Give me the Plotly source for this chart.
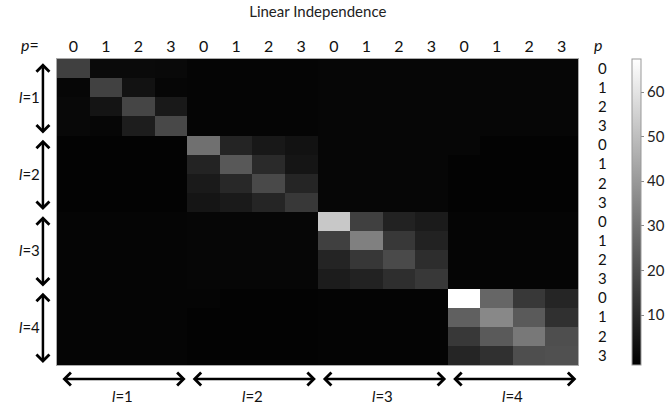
import plotly.graph_objects as go

col_labels = ["0", "1", "2", "3"] * 4
row_labels = ["0", "1", "2", "3"] * 4
block_labels = ["l=1", "l=2", "l=3", "l=4"]

z_values = [
    [16.0, 1.5, 1.5, 1.3, 0.2, 0.2, 0.2, 0.2, 0.3, 0.3, 0.3, 0.3, 0.3, 0.3, 0.3, 0.3],
    [0.3, 16.2, 3.6, 0.3, 0.1, 0.1, 0.1, 0.1, 0.3, 0.3, 0.3, 0.3, 0.3, 0.3, 0.3, 0.3],
    [0.9, 4.2, 17.4, 5.6, 0.1, 0.1, 0.1, 0.1, 0.3, 0.3, 0.3, 0.3, 0.3, 0.3, 0.3, 0.3],
    [0.9, 0.3, 6.6, 18.2, 0.1, 0.1, 0.1, 0.1, 0.3, 0.3, 0.3, 0.3, 0.3, 0.3, 0.3, 0.3],
    [-0.4, -0.4, -0.4, -0.4, 28.9, 8.6, 5.3, 3.7, 0.4, 0.4, 0.4, 0.4, 0.3, -0.5, -0.5, -0.5],
    [-0.4, -0.4, -0.4, -0.4, 8.2, 22.5, 10.1, 4.5, 0.4, 0.4, 0.4, 0.4, -0.5, -0.5, -0.5, -0.5],
    [-0.4, -0.4, -0.4, -0.4, 5.8, 9.6, 18.4, 8.8, 0.4, 0.4, 0.4, 0.4, -0.5, -0.5, -0.5, -0.5],
    [-0.4, -0.4, -0.4, -0.4, 4.5, 5.8, 8.8, 13.9, 0.4, 0.4, 0.4, 0.4, -0.5, -0.5, -0.5, -0.5],
    [0.1, 0.1, 0.1, 0.1, 0.3, 0.3, 0.3, 0.3, 52.6, 16.0, 8.0, 6.0, 0.2, 0.2, 0.2, 0.2],
    [0.1, 0.1, 0.1, 0.1, 0.3, 0.3, 0.3, 0.3, 16.0, 33.2, 13.9, 8.0, 0.2, 0.2, 0.2, 0.2],
    [0.1, 0.1, 0.1, 0.1, 0.3, 0.3, 0.3, 0.3, 8.6, 13.6, 18.7, 10.8, 0.2, 0.2, 0.2, 0.2],
    [0.1, 0.1, 0.1, 0.1, 0.3, 0.3, 0.3, 0.3, 6.3, 8.0, 11.2, 13.9, 0.2, 0.2, 0.2, 0.2],
    [0.1, 0.1, 0.1, 0.1, 0.1, -0.5, -0.5, -0.5, -0.2, -0.2, -0.2, -0.2, 67.4, 26.2, 13.9, 8.8],
    [0.1, 0.1, 0.1, 0.1, -0.5, -0.5, -0.5, -0.5, -0.2, -0.2, -0.2, -0.2, 24.6, 35.4, 23.0, 11.7],
    [0.1, 0.1, 0.1, 0.1, -0.5, -0.5, -0.5, -0.5, -0.2, -0.2, -0.2, -0.2, 13.9, 23.0, 31.1, 19.8],
    [0.1, 0.1, 0.1, 0.1, -0.5, -0.5, -0.5, -0.5, -0.2, -0.2, -0.2, -0.2, 8.8, 11.7, 19.8, 20.3],
]

FONT = "Lato"
n = len(col_labels)

fig = go.Figure(go.Heatmap(
    z=z_values,
    x=list(range(n)),
    y=list(range(n)),
    colorscale=[[0, "#000000"], [1, "#ffffff"]],
    zmin=-1.2, zmax=67.4,
    xgap=0, ygap=0,
    colorbar=dict(
        x=1.104, xanchor="left", y=0.5, yanchor="middle", len=1.0,
        xpad=0, ypad=0,
        thickness=9, outlinecolor="#999999", outlinewidth=1,
        tickvals=[10, 20, 30, 40, 50, 60], ticks="outside", ticklen=3,
        tickcolor="#888888",
        tickfont=dict(family=FONT, size=15, color="#222222"),
    ),
    showscale=True,
))

fig.update_xaxes(
    side="top", tickmode="array", tickvals=list(range(n)), ticktext=col_labels,
    ticks="", ticklen=0,
    tickfont=dict(family=FONT, size=16, color="#111111"),
    showgrid=False, zeroline=False, range=[-0.5, n - 0.5],
    showline=True, linecolor="#aaaaaa", linewidth=1, mirror=True,
    automargin=False,
)
fig.update_yaxes(
    side="right", tickmode="array", tickvals=list(range(n)), ticktext=row_labels,
    ticks="outside", ticklen=16, tickcolor="rgba(0,0,0,0)",
    tickfont=dict(family=FONT, size=15, color="#111111"),
    showgrid=False, zeroline=False, range=[n - 0.5, -0.5],
    showline=True, linecolor="#aaaaaa", linewidth=1, mirror=True,
    automargin=False,
)

annotations = []
annotations.append(dict(text="<i>p</i>=", xref="paper", yref="paper", x=-0.052, y=1.046,
                        showarrow=False, font=dict(family=FONT, size=16, color="#111111"),
                        xanchor="center", yanchor="middle"))
annotations.append(dict(text="<i>p</i>", xref="paper", yref="paper", x=1.038, y=1.046,
                        showarrow=False, font=dict(family=FONT, size=16, color="#111111"),
                        xanchor="center", yanchor="middle"))

for b, lab in enumerate(block_labels):
    start = b * 4 - 0.5
    end = b * 4 + 3.5
    text = "<i>l</i>=" + lab.split("=")[1]
    annotations.append(dict(
        x=end - 0.05, y=-0.046, xref="x", yref="paper",
        ax=start + 0.12, ay=0, axref="x", ayref="pixel",
        text="", showarrow=True, arrowhead=4, startarrowhead=4,
        arrowside="end+start", arrowsize=1, startarrowsize=1,
        arrowwidth=2.5, arrowcolor="#000000", standoff=0, startstandoff=0,
    ))
    annotations.append(dict(
        x=(start + end) / 2, y=-0.1, xref="x", yref="paper", text=text,
        showarrow=False, font=dict(family=FONT, size=15, color="#111111"),
        xanchor="center", yanchor="middle",
    ))
    annotations.append(dict(
        x=-0.027, y=end - 0.1, xref="paper", yref="y",
        ax=0, ay=start + 0.15, axref="pixel", ayref="y",
        text="", showarrow=True, arrowhead=4, startarrowhead=4,
        arrowside="end+start", arrowsize=1, startarrowsize=1,
        arrowwidth=2.5, arrowcolor="#000000", standoff=0, startstandoff=0,
    ))
    annotations.append(dict(
        x=-0.052, y=(start + end) / 2, xref="paper", yref="y", text=text,
        showarrow=False, font=dict(family=FONT, size=15, color="#111111"),
        xanchor="center", yanchor="middle",
    ))

fig.update_layout(
    width=669, height=406,
    margin=dict(l=57, r=91, t=59, b=41, autoexpand=False),
    paper_bgcolor="white", plot_bgcolor="white",
    title=dict(text="Linear Independence", x=0.475, xanchor="center", y=0.97, yanchor="middle",
               font=dict(family=FONT, size=15, color="#222222")),
    annotations=annotations,
)

fig.write_html("out.html", config={"displayModeBar": False},
               post_script="document.body.style.margin='0';document.body.style.overflow='hidden';")
